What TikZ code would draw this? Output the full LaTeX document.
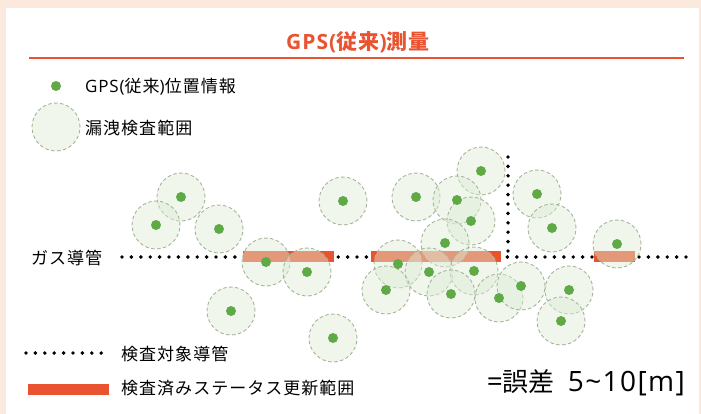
\documentclass[tikz,border=0pt]{standalone}
\usepackage{fontspec}
\setmainfont{Open Sans}
\newfontfamily\jp[LetterSpace=6]{Noto Sans CJK JP}
\newfontfamily\jpn{Noto Sans CJK JP}
\newfontfamily\lat[LetterSpace=5]{Open Sans}
\definecolor{pipered}{RGB}{233,83,48}
\definecolor{dotgreen}{RGB}{95,170,70}
\definecolor{rangefill}{RGB}{222,236,214}
\definecolor{rangeline}{RGB}{165,182,155}
\definecolor{framebg}{RGB}{252,233,222}
\newcommand\lgtxt{\fontsize{17}{20}\selectfont}
\tikzset{
  leakarea/.style={circle, minimum size=48pt, inner sep=0pt, draw=rangeline, line width=0.9pt,
    dash pattern=on 3.5pt off 2.5pt, fill=rangefill, fill opacity=0.45},
  gpsdot/.style={circle, fill=dotgreen, minimum size=10pt, inner sep=0pt},
  pipe/.style={line width=3.9pt, line cap=round, dash pattern=on 0pt off 9.4pt},
  checked/.style={fill=pipered},
  lgtext/.style={anchor=west, inner sep=0pt, font=\lgtxt}
}
\begin{document}
\begin{tikzpicture}[x=1pt,y=-1pt]
        \useasboundingbox (0,0) rectangle (701,414);
        \fill[framebg] (0,0) rectangle (701,414);
        \fill[white] (6,8) rectangle (699,414);
        % title
        \node[font=\fontsize{21}{24}\selectfont\bfseries, text=pipered] (title) at (358,42) {{\lat GPS(}{\jp 従来}{\lat )}{\jp 測量}};
        \draw[pipered, line width=1.5pt] (29,58) -- (684,58);
        % legend top
        \node[gpsdot] (lgdot) at (56,86) {};
        \node[lgtext] (lgdottxt) at (85,87) {{\lat GPS(}{\jp 従来}{\lat )}{\jp 位置情報}};
        \node[leakarea] (lgarea) at (56,127) {};
        \node[lgtext] (lgareatxt) at (85,128) {\jp 漏洩検査範囲};
        % pipes
        \node[lgtext] (gas) at (31,258) {\jp ガス導管};
        \draw[pipe] (122,257) -- (688,257);
        \draw[pipe] (508,157) -- (508,257);
        \fill[checked] (243,251) rectangle (334,262);
        \fill[checked] (371,251) rectangle (501,262);
        \fill[checked] (594,251) rectangle (635,262);
        % measured points
        \foreach \x/\y [count=\i] in {181/197,156/225,219/229,343/201,266/262,307/272,231/311,333/338,
            416/197,481/171,457/200,471/221,445/243,398/264,429/272,474/271,386/290,451/294,
            499/298,521/286,537/194,552/228,569/290,561/321,617/244}
            \node[leakarea] (r\i) at (\x,\y) {};
        \foreach \x/\y [count=\i] in {181/197,156/225,219/229,343/201,266/262,307/272,231/311,333/338,
            416/197,481/171,457/200,471/221,445/243,398/264,429/272,474/271,386/290,451/294,
            499/298,521/286,537/194,552/228,569/290,561/321,617/244}
            \node[gpsdot] (g\i) at (\x,\y) {};
        % legend bottom
        \draw[pipe] (26,353) -- (107,353);
        \node[lgtext] (lgpipe) at (121,354) {\jp 検査対象導管};
        \fill[checked] (28,384) rectangle (109,395);
        \node[lgtext] (lgchecked) at (121,388) {\jp 検査済みステータス更新範囲};
        \node[anchor=east, inner sep=0pt, font=\fontsize{28}{30}\selectfont] (err) at (685,383)
            {={\jpn\fontsize{26}{30}\selectfont 誤差}\hspace{13pt}{\lat 5\textasciitilde10[m]}};
\end{tikzpicture}
\end{document}
